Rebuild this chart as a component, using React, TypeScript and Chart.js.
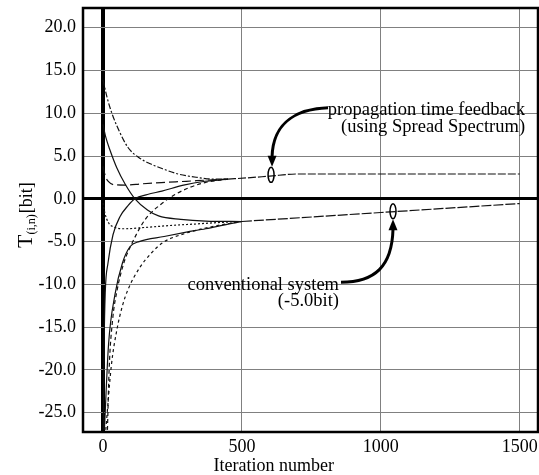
import React, { useEffect, useRef } from "react";
import { Chart, registerables } from "chart.js";
Chart.register(...registerables);

const FONT = "'Liberation Serif', 'Times New Roman', Times, serif";

// axes
const xTickValues = [0, 500, 1000, 1500];
const yTickValues = [-25, -20, -15, -10, -5, 0, 5, 10, 15, 20];
const xMin = -72;
const xMax = 1566;
const yMin = -27.25;
const yMax = 22.3;

// upper group: converging to the propagation-time-feedback level
const curveA: [number, number][] = [[0, 13.9], [15, 11.8], [32, 10], [60, 7.8], [90, 6.0], [130, 4.8], [170, 4.1], [216, 3.5], [270, 2.9], [340, 2.5], [400, 2.3], [450, 2.3]];
const curveC: [number, number][] = [[0, 3.8], [8, 2.7], [20, 2.0], [40, 1.65], [80, 1.6], [140, 1.75], [210, 1.9], [300, 2.05], [380, 2.2], [450, 2.3]];
const curveD: [number, number][] = [[1, -27], [4, -17], [8, -11], [18, -7.5], [36, -4.2], [61, -2.1], [90, -0.8], [115, 0], [160, 0.5], [212, 0.9], [290, 1.6], [367, 2.05], [450, 2.3]];
const curveF: [number, number][] = [[16, -27], [22, -20], [35, -14], [50, -10.8], [75, -7.5], [100, -5.5], [140, -3.0], [162, -2.0], [210, -0.6], [259, 0.5], [310, 1.3], [367, 1.9], [450, 2.3]];
const upperMerged: [number, number][] = [[450, 2.3], [520, 2.45], [600, 2.65], [700, 2.9], [1000, 2.9], [1500, 2.9]];

// lower group: conventional system
const curveB: [number, number][] = [[0, 8.7], [10, 7.2], [25, 5.7], [50, 3.6], [80, 1.7], [115, 0], [160, -1.3], [200, -2.0], [280, -2.4], [370, -2.6], [500, -2.65]];
const curveE: [number, number][] = [[0, -0.5], [7, -1.7], [20, -2.8], [40, -3.3], [80, -3.5], [150, -3.35], [250, -3.1], [330, -2.95], [400, -2.8], [500, -2.65]];
const curveG: [number, number][] = [[10, -27], [30, -19.5], [50, -15.3], [70, -12.5], [90, -10.6], [133, -8], [175, -6.3], [216, -5.1], [300, -4.0], [400, -3.2], [500, -2.65]];
const curveH: [number, number][] = [[5, -27], [20, -17], [43, -11.2], [70, -7.5], [97, -5.6], [130, -5.0], [220, -4.4], [300, -3.9], [370, -3.5], [450, -2.95], [500, -2.65]];
const lowerMerged: [number, number][] = [[500, -2.65], [1000, -1.6], [1500, -0.55]];

// annotations
const feedbackMark: [number, number] = [605, 2.8];
const conventionalMark: [number, number] = [1044, -1.45];
const feedbackLabel = ["propagation time feedback", "(using Spread Spectrum)"];
const conventionalLabel = ["conventional system", "(-5.0bit)"];
const xTitle = "Iteration number";
const xTitleAt = 615;

const toPts = (arr: [number, number][]) => arr.map(([x, y]) => ({ x, y }));

const series = [
  { data: curveA, dash: [6, 2, 2, 2] },
  { data: curveC, dash: [9, 4] },
  { data: curveD, dash: [] },
  { data: curveF, dash: [4, 3] },
  { data: upperMerged, dash: [8, 2] },
  { data: curveB, dash: [] },
  { data: curveE, dash: [2, 2] },
  { data: curveG, dash: [3, 3] },
  { data: curveH, dash: [] },
  { data: lowerMerged, dash: [10, 2] },
];

const annotPlugin = {
  id: "annot",
  afterDraw(chart: any) {
    const { ctx, chartArea, scales } = chart;
    const xs = scales.x;
    const ys = scales.y;
    ctx.save();
    // frame
    ctx.strokeStyle = "#000";
    ctx.lineWidth = 2.5;
    ctx.strokeRect(chartArea.left, chartArea.top, chartArea.right - chartArea.left, chartArea.bottom - chartArea.top);

    ctx.fillStyle = "#000";
    ctx.font = `18.5px ${FONT}`;

    // feedback annotation
    const e1x = xs.getPixelForValue(feedbackMark[0]);
    const e1y = ys.getPixelForValue(feedbackMark[1]);
    ctx.lineWidth = 1.5;
    ctx.beginPath();
    ctx.ellipse(e1x, e1y, 3, 7.5, 0, 0, Math.PI * 2);
    ctx.stroke();
    ctx.lineWidth = 3;
    ctx.beginPath();
    ctx.moveTo(e1x + 57, e1y - 67);
    ctx.bezierCurveTo(e1x + 29, e1y - 66, e1x + 2, e1y - 55, e1x + 1, e1y - 18);
    ctx.stroke();
    ctx.beginPath();
    ctx.moveTo(e1x + 1, e1y - 8);
    ctx.lineTo(e1x - 3.5, e1y - 19);
    ctx.lineTo(e1x + 5.5, e1y - 19);
    ctx.closePath();
    ctx.fill();
    ctx.textAlign = "right";
    ctx.textBaseline = "alphabetic";
    ctx.fillText(feedbackLabel[0], e1x + 254, e1y - 60);
    ctx.fillText(feedbackLabel[1], e1x + 254, e1y - 43);

    // conventional annotation
    const e2x = xs.getPixelForValue(conventionalMark[0]);
    const e2y = ys.getPixelForValue(conventionalMark[1]);
    ctx.lineWidth = 1.5;
    ctx.beginPath();
    ctx.ellipse(e2x, e2y, 3, 7.5, 0, 0, Math.PI * 2);
    ctx.stroke();
    ctx.lineWidth = 3;
    ctx.beginPath();
    ctx.moveTo(e2x - 52, e2y + 71);
    ctx.bezierCurveTo(e2x - 18, e2y + 71, e2x - 1, e2y + 55, e2x, e2y + 18);
    ctx.stroke();
    ctx.beginPath();
    ctx.moveTo(e2x, e2y + 8);
    ctx.lineTo(e2x - 4.5, e2y + 19);
    ctx.lineTo(e2x + 4.5, e2y + 19);
    ctx.closePath();
    ctx.fill();
    ctx.fillText(conventionalLabel[0], e2x - 54, e2y + 79);
    ctx.fillText(conventionalLabel[1], e2x - 54, e2y + 95);

    // x title
    ctx.font = `18px ${FONT}`;
    ctx.textAlign = "center";
    ctx.fillText(xTitle, xs.getPixelForValue(xTitleAt), chart.height - 4);

    // y title: T_(i,n)[bit]
    ctx.save();
    ctx.translate(32, (chartArea.top + chartArea.bottom) / 2 + 28);
    ctx.rotate(-Math.PI / 2);
    ctx.textAlign = "left";
    ctx.font = `22px ${FONT}`;
    ctx.fillText("T", 0, 0);
    let off = ctx.measureText("T").width;
    ctx.font = `12px ${FONT}`;
    ctx.fillText("(i,n)", off, 3);
    off += ctx.measureText("(i,n)").width + 1;
    ctx.font = `18px ${FONT}`;
    ctx.fillText("[bit]", off, 0);
    ctx.restore();

    ctx.restore();
  },
};

export default function App() {
  const ref = useRef<HTMLCanvasElement>(null);
  useEffect(() => {
    document.body.style.margin = "0";
    const canvas = ref.current!;
    const chart = new Chart(canvas, {
      type: "line",
      data: {
        datasets: series.map((s, i) => ({
          label: "s" + i,
          data: toPts(s.data),
          borderColor: "#111",
          borderWidth: 1.2,
          borderDash: s.dash,
          pointRadius: 0,
          fill: false,
          cubicInterpolationMode: "monotone" as const,
        })),
      },
      options: {
        responsive: false,
        animation: false,
        devicePixelRatio: 1,
        layout: { padding: { top: 8, right: 1, left: 0, bottom: 0 } },
        plugins: { legend: { display: false }, tooltip: { enabled: false } },
        scales: {
          x: {
            type: "linear",
            min: xMin,
            max: xMax,
            afterBuildTicks: (s: any) => {
              s.ticks = xTickValues.map((v) => ({ value: v }));
            },
            afterFit: (s: any) => {
              s.height = 43;
              s.paddingLeft = 0;
              s.paddingRight = 0;
            },
            ticks: {
              color: "#000",
              font: { family: FONT, size: 18 },
              padding: 4,
              maxRotation: 0,
              callback: (v: any) => String(v),
            },
            grid: {
              drawTicks: false,
              color: (c: any) => (c.tick && c.tick.value === 0 ? "#000" : "#808080"),
              lineWidth: (c: any) => (c.tick && c.tick.value === 0 ? 4 : 1),
            },
            border: { display: false },
          },
          y: {
            type: "linear",
            min: yMin,
            max: yMax,
            afterBuildTicks: (s: any) => {
              s.ticks = yTickValues.map((v) => ({ value: v }));
            },
            afterFit: (s: any) => {
              s.width = 83;
              s.paddingTop = 0;
              s.paddingBottom = 0;
            },
            ticks: {
              color: "#000",
              font: { family: FONT, size: 18 },
              padding: 7,
              callback: (v: any) => Number(v).toFixed(1),
            },
            grid: {
              drawTicks: false,
              color: (c: any) => (c.tick && c.tick.value === 0 ? "#000" : "#808080"),
              lineWidth: (c: any) => (c.tick && c.tick.value === 0 ? 3 : 1),
            },
            border: { display: false },
          },
        },
      },
      plugins: [annotPlugin],
    });
    return () => chart.destroy();
  }, []);
  return (
    <div style={{ width: 539, height: 475 }}>
      <canvas ref={ref} width={539} height={475} style={{ display: "block" }} />
    </div>
  );
}
